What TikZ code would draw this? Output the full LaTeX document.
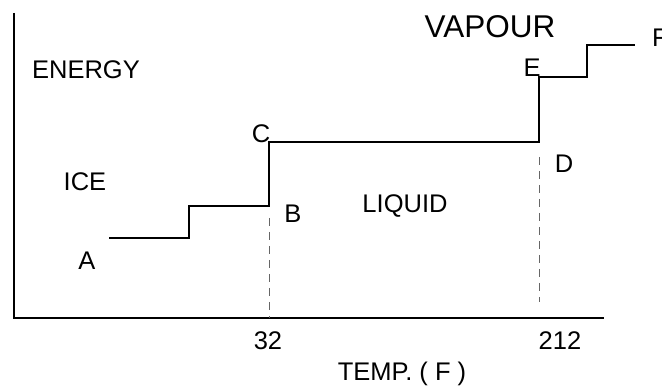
\documentclass[tikz,border=0pt]{standalone}
\usepackage{fontspec}
\setmainfont{Liberation Sans}
\begin{document}
\begin{tikzpicture}[x=1pt,y=-1pt,
  lbl/.style={inner sep=0pt, anchor=base, font=\fontsize{25.5}{30}\selectfont},
  biglbl/.style={inner sep=0pt, anchor=base, font=\fontsize{31.5}{36}\selectfont},
  curve/.style={line width=2.2pt, line join=miter},
  axis/.style={line width=2.6pt},
  guide/.style={line width=1pt, color=black!60, dash pattern=on 8pt off 6pt}]
\useasboundingbox (0,0) rectangle (662,387);
% axes
\coordinate (top) at (14,13);
\coordinate (orig) at (14,318);
\coordinate (xend) at (604,318);
\draw[axis] (top) -- (orig) -- (xend);
% staircase points
\coordinate (pA) at (109,238);
\coordinate (p1) at (189,238);
\coordinate (p2) at (189,206);
\coordinate (pB) at (269,206);
\coordinate (pC) at (269,142);
\coordinate (pD) at (539,142);
\coordinate (pE) at (539,77);
\coordinate (p3) at (587,77);
\coordinate (p4) at (587,45);
\coordinate (pF) at (635,45);
% guides
\coordinate (g1t) at (269,218);
\coordinate (g1b) at (269,318);
\coordinate (g2t) at (539,157);
\coordinate (g2b) at (539,302);
\draw[guide] (g1t) -- (g1b);
\draw[guide] (g2t) -- (g2b);
\draw[curve] (pA) -- (p1) -- (p2) -- (pB) -- (pC) -- (pD) -- (pE) -- (p3) -- (p4) -- (pF);
% labels
\node[lbl] (energy) at (86,79) {ENERGY};
\node[lbl] (ice) at (85,191) {ICE};
\node[lbl] (la) at (87,270) {A};
\node[lbl] (lb) at (293,223) {B};
\node[lbl] (lc) at (261,143) {C};
\node[lbl] (liquid) at (405,213) {LIQUID};
\node[lbl] (ld) at (564,173) {D};
\node[lbl] (le) at (532,77) {E};
\node[biglbl] (vapour) at (490,38) {VAPOUR};
\node[lbl] (lf) at (660,47) {F};
\node[lbl] (t32) at (268,350) {32};
\node[lbl] (t212) at (560,350) {212};
\node[lbl] (temp) at (402,381) {TEMP. ( F )};
\end{tikzpicture}
\end{document}
